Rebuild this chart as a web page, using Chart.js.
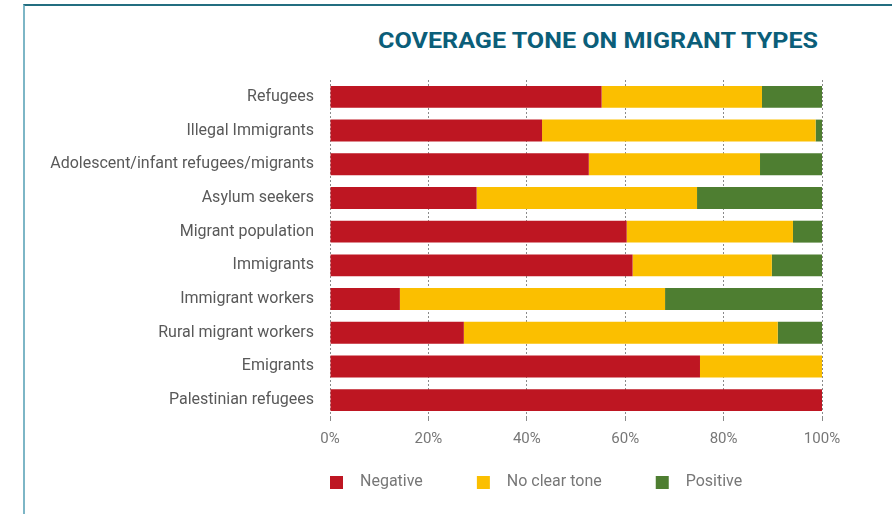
<!DOCTYPE html>
<html>
<head>
<meta charset="utf-8">
<script src="https://cdn.jsdelivr.net/npm/chart.js@4"></script>
<style>
  html, body { margin: 0; padding: 0; background: #ffffff; overflow: hidden; }
  #wrap { position: relative; width: 892px; height: 514px; }
  #frame { position: absolute; left: 23px; top: 4px; width: 900px; height: 600px;
           border-top: 2px solid #236e80; border-left: 2px solid #7db6c6; pointer-events: none; }
  #title { position: absolute; left: 378px; top: 30px; margin: 0; white-space: nowrap;
           font-family: Roboto, sans-serif; font-weight: 700; font-size: 22px; line-height: 22px;
           color: #0b5e79; transform-origin: 0 0; }
  canvas { position: absolute; left: 0; top: 0; }
</style>
</head>
<body>
<div id="wrap">
  <div id="frame"></div>
  <div id="title">COVERAGE TONE ON MIGRANT TYPES</div>
  <canvas id="c" width="892" height="514"></canvas>
</div>
<script>
const categories = [
  "Refugees",
  "Illegal Immigrants",
  "Adolescent/infant refugees/migrants",
  "Asylum seekers",
  "Migrant population",
  "Immigrants",
  "Immigrant workers",
  "Rural migrant workers",
  "Emigrants",
  "Palestinian refugees"
];
const negative    = [55.2, 43.1, 52.6, 29.8, 60.3, 61.5, 14.2, 27.2, 75.2, 100];
const noClearTone = [32.6, 55.6, 34.8, 44.8, 33.8, 28.3, 53.9, 63.8, 24.8, 0];
const positive    = [12.2,  1.3, 12.6, 25.4,  5.9, 10.2, 31.9,  9.0,  0,   0];
const seriesNames = ["Negative", "No clear tone", "Positive"];
const seriesColors = ["#be1622", "#fbbf00", "#4e7e31"];
const xTicks = [0, 20, 40, 60, 80, 100];

// fit title width to reference
(function () {
  const t = document.getElementById('title');
  const w = t.getBoundingClientRect().width;
  const target = 440;
  t.style.transform = 'scaleX(' + (target / w) + ')';
})();

// legend marker canvases: blank lead + 13px square
const LEG_PAD = 18;
const PW = 58;
const SQ_OFF = PW - 22;
function marker(color) {
  const c = document.createElement('canvas');
  c.width = PW; c.height = 13;
  const g = c.getContext('2d');
  g.fillStyle = color;
  g.fillRect(SQ_OFF, 0, 13, 13);
  return c;
}
const markers = seriesColors.map(marker);

// align the legend's first marker with the left edge of the plot area
const legendAlign = {
  id: 'legendAlign',
  afterLayout(chart) {
    const lg = chart.legend;
    if (lg) lg.left = chart.chartArea.left - LEG_PAD - SQ_OFF;
  }
};

const ctx = document.getElementById('c').getContext('2d');
new Chart(ctx, {
  type: 'bar',
  data: {
    labels: categories,
    datasets: [
      { label: seriesNames[0], data: negative,    backgroundColor: seriesColors[0] },
      { label: seriesNames[1], data: noClearTone, backgroundColor: seriesColors[1] },
      { label: seriesNames[2], data: positive,    backgroundColor: seriesColors[2] }
    ]
  },
  plugins: [legendAlign],
  options: {
    indexAxis: 'y',
    responsive: false,
    animation: false,
    devicePixelRatio: 1,
    layout: { padding: { left: 0, right: 70, top: 80, bottom: 14 } },
    datasets: { bar: { categoryPercentage: 1, barPercentage: 0.65, borderWidth: 0 } },
    scales: {
      x: {
        stacked: true,
        min: 0, max: 100,
        afterBuildTicks: (s) => { s.ticks = xTicks.map(v => ({ value: v })); },
        afterFit: (s) => { s.height = 39; },
        z: 1,
        grid: { color: '#8a8a8a', lineWidth: 1, drawTicks: true, tickLength: 4,
                tickColor: '#8a8a8a', tickBorderDash: [] },
        border: { display: false, dash: [2, 2] },
        ticks: {
          callback: (v) => v + '%',
          color: '#777777',
          padding: 9,
          font: { family: 'Roboto', size: 15 }
        }
      },
      y: {
        stacked: true,
        afterFit: (s) => { s.width = 330; },
        grid: { display: false, drawTicks: false },
        border: { display: false },
        ticks: {
          color: '#595959',
          padding: 16,
          font: { family: 'Roboto', size: 16 }
        }
      }
    },
    plugins: {
      title: { display: false },
      tooltip: { enabled: false },
      legend: {
        position: 'bottom',
        align: 'start',
        labels: {
          usePointStyle: true,
          pointStyleWidth: PW,
          padding: LEG_PAD,
          color: '#777777',
          font: { family: 'Roboto', size: 16 },
          generateLabels: (chart) => {
            const items = Chart.defaults.plugins.legend.labels.generateLabels(chart);
            items.forEach((it, i) => { it.pointStyle = markers[i]; });
            return items;
          }
        }
      }
    }
  }
});
</script>
</body>
</html>
